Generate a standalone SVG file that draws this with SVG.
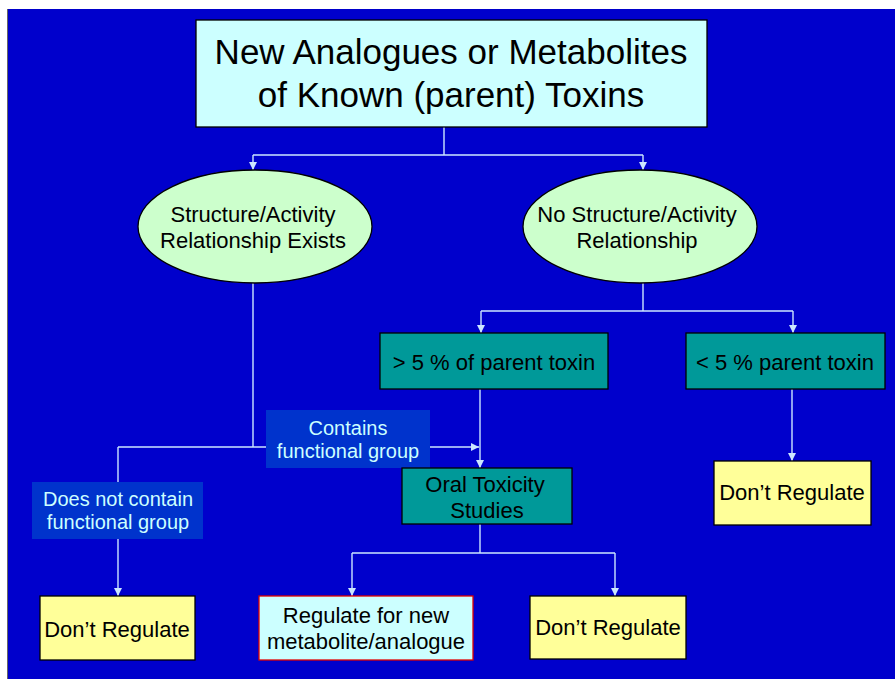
<svg xmlns="http://www.w3.org/2000/svg" width="895" height="679" viewBox="0 0 895 679">
<style>
text{font-family:"Liberation Sans",Arial,sans-serif;text-anchor:middle;fill:#000}
.box{stroke:#000;stroke-width:1.3}
.teal{fill:#009999}
.yel{fill:#FFFF99}
.cyan{fill:#CCFFFF}
.ell{fill:#CCFFCC;stroke:#000;stroke-width:1.3}
.lbl{fill:#0033CC}
.lt{fill:#CCFFFF;font-size:20px}
.t22{font-size:22px}
.c{fill:none;stroke:#CCE6FF;stroke-width:1.4}
</style>
<defs>
<marker id="ah" markerUnits="userSpaceOnUse" markerWidth="8" markerHeight="8" viewBox="0 0 8 8" refX="8" refY="4" orient="auto">
<path d="M0,0 L8,4 L0,8 Z" fill="#CCE6FF"/>
</marker>
</defs>
<rect x="0" y="0" width="895" height="679" fill="#fff"/>
<rect x="7" y="9" width="888" height="670" fill="#0000CC"/>
<line x1="7.5" y1="9" x2="7.5" y2="679" stroke="#666" stroke-width="1"/>

<g id="connectors">
<path class="c" d="M444,127 V155 M253,155 H643"/>
<path class="c" d="M253,155 V170" marker-end="url(#ah)"/>
<path class="c" d="M643,155 V170" marker-end="url(#ah)"/>
<path class="c" d="M253,283 V447 M118,447 H253"/>
<path class="c" d="M253,447 H479" marker-end="url(#ah)"/>
<path class="c" d="M118,447 V482"/>
<path class="c" d="M118,539 V596" marker-end="url(#ah)"/>
<path class="c" d="M643,283 V311 M481,311 H793"/>
<path class="c" d="M481,311 V333" marker-end="url(#ah)"/>
<path class="c" d="M793,311 V333" marker-end="url(#ah)"/>
<path class="c" d="M480,389 V468" marker-end="url(#ah)"/>
<path class="c" d="M792,389 V461" marker-end="url(#ah)"/>
<path class="c" d="M480,524 V553 M352,553 H615"/>
<path class="c" d="M352,553 V596" marker-end="url(#ah)"/>
<path class="c" d="M615,553 V596" marker-end="url(#ah)"/>
</g>

<g id="top">
<rect class="box cyan" x="196" y="20" width="511" height="107"/>
<text x="451" y="64" font-size="35">New Analogues or Metabolites</text>
<text x="451" y="107" font-size="35">of Known (parent) Toxins</text>
</g>

<g id="sar">
<ellipse class="ell" cx="255" cy="226.5" rx="117" ry="56.5"/>
<text class="t22" x="253" y="222">Structure/Activity</text>
<text class="t22" x="253" y="248">Relationship Exists</text>
</g>

<g id="nosar">
<ellipse class="ell" cx="640" cy="226.5" rx="117" ry="56.5"/>
<text class="t22" x="637" y="222">No Structure/Activity</text>
<text class="t22" x="637" y="248">Relationship</text>
</g>

<g id="gt5">
<rect class="box teal" x="380" y="333" width="228" height="56"/>
<text class="t22" x="494" y="370">&gt; 5 % of parent toxin</text>
</g>

<g id="lt5">
<rect class="box teal" x="686" y="333" width="199" height="56"/>
<text class="t22" x="785" y="370">&lt; 5 % parent toxin</text>
</g>

<g id="contains">
<rect class="lbl" x="266" y="410" width="164" height="58"/>
<text class="lt" x="348" y="435">Contains</text>
<text class="lt" x="348" y="458">functional group</text>
</g>

<g id="notcontain">
<rect class="lbl" x="32" y="482" width="171" height="57"/>
<text class="lt" x="118" y="506">Does not contain</text>
<text class="lt" x="118" y="529">functional group</text>
</g>

<g id="oral">
<rect class="box teal" x="402" y="468" width="170" height="56"/>
<text class="t22" x="485" y="492">Oral Toxicity</text>
<text class="t22" x="487" y="518">Studies</text>
</g>

<g id="dr-right">
<rect class="box yel" x="714" y="461" width="157" height="64"/>
<text class="t22" x="792" y="500">Don’t Regulate</text>
</g>

<g id="dr-left">
<rect class="box yel" x="40" y="596" width="155" height="64"/>
<text class="t22" x="117" y="637">Don’t Regulate</text>
</g>

<g id="regulate">
<rect x="259" y="596" width="214" height="64" fill="#CCFFFF" stroke="#E00000" stroke-width="1.3"/>
<text class="t22" x="366" y="623">Regulate for new</text>
<text class="t22" x="366" y="649">metabolite/analogue</text>
</g>

<g id="dr-mid">
<rect class="box yel" x="530" y="596" width="156" height="63"/>
<text class="t22" x="608" y="635">Don’t Regulate</text>
</g>
</svg>
